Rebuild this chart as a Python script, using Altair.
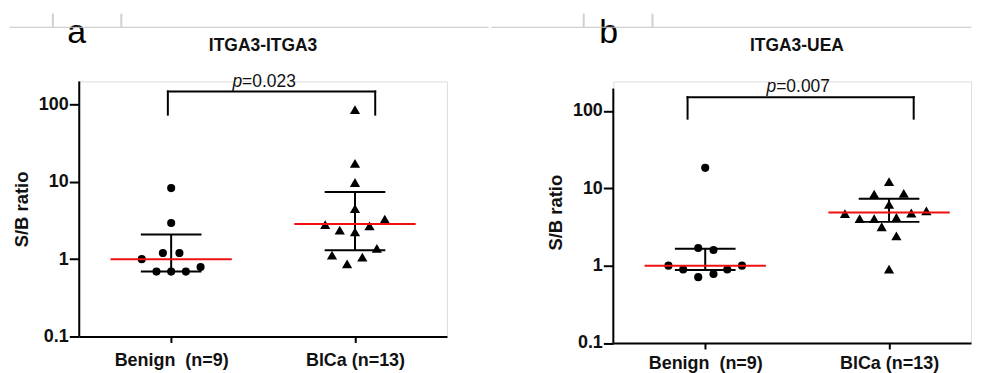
import altair as alt
import pandas as pd

FONT = "Liberation Sans"

categories = ["Benign\u00a0 (n=9)", "BlCa (n=13)"]
y_ticks = [0.1, 1, 10, 100]

# ---- panel a : ITGA3-ITGA3 ----
benign_a = [8.3, 2.94, 1.2, 1.2, 1.0, 0.69, 0.69, 0.69, 0.79]
benign_a_dx = [0, 0, -0.045, 0.045, -0.16, -0.08, 0, 0.08, 0.16]
blca_a = [86, 17.3, 9.8, 4.5, 3.3, 2.8, 2.7, 2.37, 2.25, 1.38, 1.13, 1.06, 0.87]
blca_a_dx = [0, 0, 0, 0, 0.162, -0.162, 0.079, -0.083, 0, 0.119, -0.125, 0.04, -0.043]
median_a = [1.0, 2.85]
upper_a = [2.08, 7.4]
lower_a = [0.69, 1.3]
p_a = "=0.023"
bracket_a = {"x1": 0.982, "x2": 2.11, "top": 147, "bottom": 74}

# ---- panel b : ITGA3-UEA ----
benign_b = [18.4, 1.69, 1.59, 1.0, 1.0, 0.89, 0.89, 0.71, 0.78]
benign_b_dx = [0, -0.038, 0.045, -0.2, 0.2, -0.12, 0.12, -0.038, 0.045]
blca_b = [12.2, 8.4, 8.6, 6.2, 4.7, 4.8, 5.1, 4.06, 4.06, 4.19, 3.18, 2.43, 0.9]
blca_b_dx = [0, -0.081, 0.08, 0, -0.24, 0.121, 0.203, -0.16, -0.081, 0.04, -0.04, 0.04, 0]
median_b = [1.0, 4.85]
upper_b = [1.65, 7.35]
lower_b = [0.88, 3.68]
p_b = "=0.007"
bracket_b = {"x1": 0.904, "x2": 2.134, "top": 151, "bottom": 79.6}

PX_PER_UNIT = 184.5
PX_PER_DECADE = 77.6
Y_MIN = 0.1
AXIS_TOP = [199, 195]


def panel(title, letter, benign, benign_dx, blca, blca_dx, medians, uppers, lowers,
          p_text, bracket, width, height, axis_top, x_label_pad, title_xy, letter_xy,
          deco_h, deco_v):
    xmax = 0.5 + width / PX_PER_UNIT
    ymax = Y_MIN * 10 ** (height / PX_PER_DECADE)
    xs = alt.Scale(domain=[0.5, xmax], nice=False, zero=False)
    ys = alt.Scale(type="log", domain=[Y_MIN, ymax], nice=False)
    label_expr = f"datum.value == 1 ? '{categories[0]}' : '{categories[1]}'"
    x_axis = alt.Axis(values=[1, 2], labelExpr=label_expr, grid=False, tickSize=6,
                      tickWidth=2, tickColor="black", domainWidth=2, domainColor="black",
                      labelFont=FONT, labelFontSize=18, labelFontWeight="bold",
                      labelColor="#111", labelPadding=x_label_pad, labelFlush=False)
    y_axis = alt.Axis(values=y_ticks, format="~g", grid=False, tickSize=10, tickWidth=2,
                      tickColor="black", domain=False,
                      labelFont=FONT, labelFontSize=18, labelFontWeight="bold",
                      labelColor="#111", labelPadding=1, titleFont=FONT,
                      titleFontSize=18.5, titleFontWeight="bold", titleColor="#111",
                      titlePadding=7)

    def X(f):
        return alt.X(f, type="quantitative", scale=xs, axis=x_axis, title=None)

    def Y(f):
        return alt.Y(f, type="quantitative", scale=ys, axis=y_axis, title="S/B ratio")

    pts_b = pd.DataFrame({"x": [1 + d for d in benign_dx], "y": benign})
    pts_c = pd.DataFrame({"x": [2 + d for d in blca_dx], "y": blca})
    stats = pd.DataFrame({"c": [1, 2], "median": medians, "upper": uppers, "lower": lowers})
    br = pd.DataFrame([bracket])
    one = pd.DataFrame({"k": [0]})
    yline = pd.DataFrame({"x0": [0.5], "y0": [Y_MIN], "y1": [axis_top]})

    axis_line = alt.Chart(yline).mark_rule(color="black", strokeWidth=2).encode(
        x=X("x0"), y=Y("y0"), y2="y1")

    circles = alt.Chart(pts_b).mark_circle(size=66, color="black", opacity=1).encode(
        x=X("x"), y=Y("y"))
    tris = alt.Chart(pts_c).mark_point(shape="triangle-up", size=105, filled=True,
                                       color="black", opacity=1, strokeWidth=0).encode(
        x=X("x"), y=Y("y"))

    base = alt.Chart(stats).transform_calculate(
        cl="datum.c - 0.165", cr="datum.c + 0.165",
        ml="datum.c - 0.33", mr="datum.c + 0.33")
    vbar = base.mark_rule(color="black", strokeWidth=2).encode(
        x=X("c"), y=Y("lower"), y2="upper")
    cap_u = base.mark_rule(color="black", strokeWidth=2).encode(
        x=X("cl"), x2="cr", y=Y("upper"))
    cap_l = base.mark_rule(color="black", strokeWidth=2).encode(
        x=X("cl"), x2="cr", y=Y("lower"))
    med = base.mark_rule(color="#f01010", strokeWidth=2).encode(
        x=X("ml"), x2="mr", y=Y("median"))

    bh = alt.Chart(br).mark_rule(color="black", strokeWidth=2, strokeCap="square").encode(
        x=X("x1"), x2="x2", y=Y("top"))
    bl = alt.Chart(br).mark_rule(color="black", strokeWidth=2, strokeCap="square").encode(
        x=X("x1"), y=Y("bottom"), y2="top")
    brr = alt.Chart(br).mark_rule(color="black", strokeWidth=2, strokeCap="square").encode(
        x=X("x2"), y=Y("bottom"), y2="top")

    junction = pd.DataFrame({"jx": [1.386], "jy": [bracket["top"]]})
    pt1 = alt.Chart(junction).mark_text(text="p", font=FONT, fontSize=17.5, fontStyle="italic",
                                        align="right", baseline="alphabetic", dy=-5,
                                        color="#111").encode(x=X("jx"), y=Y("jy"))
    pt2 = alt.Chart(junction).mark_text(text=p_text, font=FONT, fontSize=17.5,
                                        align="left", baseline="alphabetic", dy=-5,
                                        color="#111").encode(x=X("jx"), y=Y("jy"))

    lt = alt.Chart(one).mark_text(text=letter, font=FONT, fontSize=34, align="center",
                                  baseline="alphabetic", color="black").encode(
        x=alt.value(letter_xy[0]), y=alt.value(letter_xy[1]))
    tt = alt.Chart(one).mark_text(text=title, font=FONT, fontSize=17.5, fontWeight="bold",
                                  align="center", baseline="alphabetic", color="#111").encode(
        x=alt.value(title_xy[0]), y=alt.value(title_xy[1]))

    hx1, hx2, hy = deco_h
    gh = alt.Chart(one).mark_rule(color="#c4c4c4", strokeWidth=1).encode(
        x=alt.value(hx1), x2=alt.value(hx2), y=alt.value(hy))
    vx, vy1, vy2 = deco_v
    gv = [alt.Chart(one).mark_rule(color="#d0d0d0", strokeWidth=2).encode(
        x=alt.value(v), y=alt.value(vy1), y2=alt.value(vy2)) for v in vx]

    layers = [axis_line, circles, tris, vbar, cap_u, cap_l, med, bh, bl, brr,
              pt1, pt2, lt, tt, gh] + gv
    return alt.layer(*layers).properties(width=width, height=height)


pa = panel("ITGA3-ITGA3", "a", benign_a, benign_a_dx, blca_a, blca_a_dx, median_a,
           upper_a, lower_a, p_a, bracket_a, 369, 256, AXIS_TOP[0], 9, (184.5, -31),
           (-2.5, -39), (-70, 411, -54.3), ([-26.5, 42.2], -68, -54.3))
pb = panel("ITGA3-UEA", "b", benign_b, benign_b_dx, blca_b, blca_b_dx, median_b,
           upper_b, lower_b, p_b, bracket_b, 359, 262.5, AXIS_TOP[1], 6, (184.3, -31),
           (-4.7, -39), (-122.2, 359.3, -54.3), ([-29.7, 39.3], -68, -54.3))

chart = alt.hconcat(pa, pb, spacing=0).properties(
    padding={"left": 0.5, "top": 3, "right": 0, "bottom": 0}
).configure_view(stroke="transparent").configure(background="white")

chart.save("out.html", embed_options={"renderer": "svg", "actions": False})
